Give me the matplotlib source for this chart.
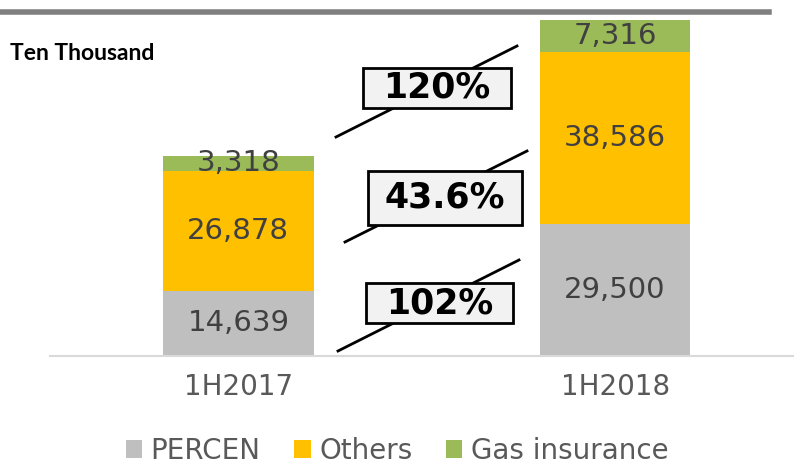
import matplotlib.pyplot as plt
from matplotlib.lines import Line2D
from matplotlib.patches import Rectangle
import numpy as np

plt.rcParams['font.family'] = ['DejaVu Sans']

# data
periods = ['1H2017', '1H2018']
percen = [14639, 29500]
others = [26878, 38586]
gas = [3318, 7316]
growth = ['102%', '43.6%', '120%']

series_names = ['PERCEN', 'Others', 'Gas insurance']
colors = ['#BFBFBF', '#FFC000', '#9BBB59']

W, H = 794, 466
fig = plt.figure(figsize=(W / 100, H / 100), dpi=100)
ax = fig.add_axes([50 / W, (H - 356) / H, (W - 50) / W, (356 - 14) / H])

x = np.arange(len(periods))
bottom = np.zeros(len(periods))
for vals, name, c in zip([percen, others, gas], series_names, colors):
    vals = np.array(vals)
    ax.bar(x, vals, width=0.4, bottom=bottom, color=c, label=name, zorder=2)
    for xi, b, v in zip(x, bottom, vals):
        ax.text(xi, b + v / 2, f'{v:,}', ha='center', va='center',
                fontsize=21, color='#404040', zorder=3)
    bottom = bottom + vals

ax.set_xlim(-0.5, 1.475)
ax.set_ylim(0, 76700)
for s in ['top', 'left', 'right']:
    ax.spines[s].set_visible(False)
ax.spines['bottom'].set_color('#D9D9D9')
ax.spines['bottom'].set_linewidth(1.5)
ax.set_yticks([])
ax.set_xticks(x)
ax.set_xticklabels(periods, fontsize=20, color='#595959')
ax.tick_params(axis='x', length=0, pad=12)

# top rule
fig.add_artist(Line2D([0, 769 / W], [1 - 12 / H, 1 - 12 / H], color='#808080', lw=4))

fig.text(10 / W, 1 - 53 / H, 'Ten Thousand', fontsize=16.5, fontweight='bold',
         family=['Lato', 'DejaVu Sans'], va='center', ha='left')

# growth callouts: slanted line with a boxed label (pixel boxes: x0, y0, x1, y1)
line_ends = [((338, 351), (519, 260)), ((345, 242), (527, 151)), ((336, 137), (517, 46))]
boxes = [(366, 283, 513, 323), (368, 171, 522, 225), (363, 68, 511, 108)]
for txt, (p0, p1), (x0, y0, x1, y1) in zip(growth, line_ends, boxes):
    fig.add_artist(Line2D([p0[0] / W, p1[0] / W], [1 - p0[1] / H, 1 - p1[1] / H],
                          color='black', lw=2, zorder=4))
    fig.add_artist(Rectangle((x0 / W, 1 - y1 / H), (x1 - x0) / W, (y1 - y0) / H,
                             transform=fig.transFigure, fc='#F2F2F2', ec='black',
                             lw=2, zorder=5))
    fig.text((x0 + x1) / 2 / W, 1 - (y0 + y1) / 2 / H, txt, fontsize=25,
             fontweight='bold', ha='center', va='center', zorder=6)

leg = fig.legend(loc='center', bbox_to_anchor=(0.5, 1 - 451 / H), ncol=3, frameon=False,
                 fontsize=20, handlelength=0.6, handleheight=0.6, handletextpad=0.3,
                 columnspacing=1.2)
for t in leg.get_texts():
    t.set_color('#595959')

fig.savefig('out.png', dpi=100)
